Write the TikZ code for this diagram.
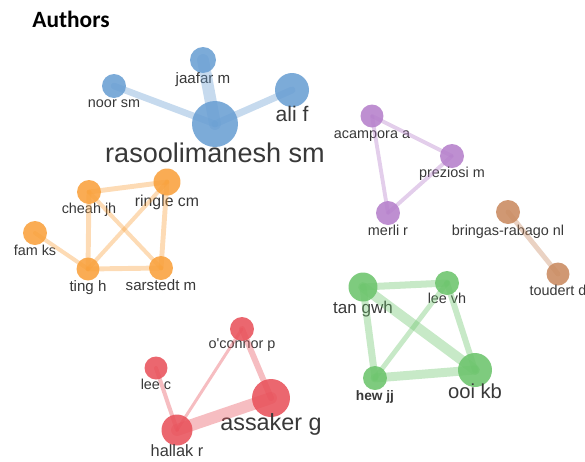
\documentclass[tikz,border=0pt]{standalone}
\usepackage{fontspec}
\setmainfont{Liberation Sans}
\newfontfamily\titlefont{Carlito}

\definecolor{clBlue}{HTML}{6A9FD3}
\definecolor{clOrange}{HTML}{F9A13C}
\definecolor{clPurple}{HTML}{B57FCB}
\definecolor{clBrown}{HTML}{C98A60}
\definecolor{clRed}{HTML}{E8525B}
\definecolor{clGreen}{HTML}{6CC46C}
\definecolor{txtGray}{HTML}{383838}

\begin{document}
\begin{tikzpicture}[x=0.02cm,y=-0.02cm,
	authorNode/.style={circle,draw=none,inner sep=0pt,fill opacity=0.88},
	authorLabel/.style={anchor=base,inner sep=0pt,text=txtGray},
	link/.style={line cap=round,draw opacity=0.38}]
\useasboundingbox (0,0) rectangle (585,461);

\node[anchor=base west,inner sep=0pt,font=\titlefont\bfseries\fontsize{13.3}{14}\selectfont] (title) at (32,27) {Authors};

\newcommand\drawAuthor[8]{\node[authorNode,fill=#4,minimum size=#3*0.04cm] at (#1,#2) (#5) {};
\node[authorLabel,font=\fontsize{#7}{#7}\selectfont] at (#1,#6) (#5-label) {#8};}

% blue cluster
\drawAuthor{215}{124}{23}{clBlue}{rasool}{162}{15.4}{rasoolimanesh sm}
\drawAuthor{203}{60}{13}{clBlue}{jaafar}{83}{8.6}{jaafar m}
\drawAuthor{114}{86}{12}{clBlue}{noor}{107}{8.2}{noor sm}
\drawAuthor{292}{90}{17}{clBlue}{ali}{121}{12}{ali f}

% purple cluster
\drawAuthor{372}{116}{11.5}{clPurple}{acampora}{138}{8.2}{acampora a}
\drawAuthor{452}{156}{12}{clPurple}{preziosi}{177}{8.2}{preziosi m}
\drawAuthor{388}{213}{12}{clPurple}{merli}{235}{8.2}{merli r}

% brown cluster
\drawAuthor{508}{212}{12}{clBrown}{bringas}{235}{8.2}{bringas-rabago nl}
\drawAuthor{558}{274}{11.5}{clBrown}{toudert}{295}{8.2}{toudert d}

% orange cluster
\drawAuthor{89}{192}{12}{clOrange}{cheah}{213}{8.2}{cheah jh}
\drawAuthor{167}{182}{13.5}{clOrange}{ringle}{206}{9}{ringle cm}
\drawAuthor{35}{233}{12}{clOrange}{fam}{255}{8.2}{fam ks}
\drawAuthor{88}{269}{11.5}{clOrange}{ting}{291}{8.6}{ting h}
\drawAuthor{161}{268}{12}{clOrange}{sarstedt}{290}{8.6}{sarstedt m}

% red cluster
\drawAuthor{242}{329}{12}{clRed}{oconnor}{348}{8.2}{o\textquotesingle connor p}
\drawAuthor{156}{368}{11.5}{clRed}{leec}{389}{8.2}{lee c}
\drawAuthor{271}{398}{19}{clRed}{assaker}{430}{13.3}{assaker g}
\drawAuthor{177}{430}{15.5}{clRed}{hallak}{456}{9.3}{hallak r}

% green cluster
\drawAuthor{363}{287}{14.5}{clGreen}{tan}{313}{9.7}{tan gwh}
\drawAuthor{447}{283}{12}{clGreen}{leevh}{303}{8.2}{lee vh}
\drawAuthor{375}{378}{12}{clGreen}{hew}{400}{7.8}{\textbf{hew jj}}
\drawAuthor{475}{370}{17}{clGreen}{ooi}{398}{11.5}{ooi kb}

\draw[link,clBlue,line width=3.8pt] (rasool.center) -- (noor.center);
\draw[link,clBlue,line width=6.8pt] (rasool.center) -- (jaafar.center);
\draw[link,clBlue,line width=4pt] (rasool.center) -- (ali.center);

\draw[link,clPurple,line width=2.2pt] (acampora.center) -- (preziosi.center);
\draw[link,clPurple,line width=2.2pt] (acampora.center) -- (merli.center);
\draw[link,clPurple,line width=2.2pt] (preziosi.center) -- (merli.center);

\draw[link,clBrown,line width=2.8pt] (bringas.center) -- (toudert.center);

\draw[link,clOrange,line width=2.8pt] (cheah.center) -- (ringle.center);
\draw[link,clOrange,line width=2.8pt] (cheah.center) -- (ting.center);
\draw[link,clOrange,line width=2.3pt] (cheah.center) -- (sarstedt.center);
\draw[link,clOrange,line width=2.3pt] (ringle.center) -- (ting.center);
\draw[link,clOrange,line width=2.8pt] (ringle.center) -- (sarstedt.center);
\draw[link,clOrange,line width=2.8pt] (ting.center) -- (sarstedt.center);
\draw[link,clOrange,line width=2.3pt] (fam.center) -- (ting.center);

\draw[link,clRed,line width=2.3pt] (leec.center) -- (hallak.center);
\draw[link,clRed,line width=1.7pt] (hallak.center) -- (oconnor.center);
\draw[link,clRed,line width=3.4pt] (oconnor.center) -- (assaker.center);
\draw[link,clRed,line width=6.8pt] (hallak.center) -- (assaker.center);

\draw[link,clGreen,line width=4pt] (tan.center) -- (leevh.center);
\draw[link,clGreen,line width=5.7pt] (tan.center) -- (ooi.center);
\draw[link,clGreen,line width=4pt] (tan.center) -- (hew.center);
\draw[link,clGreen,line width=2.8pt] (leevh.center) -- (hew.center);
\draw[link,clGreen,line width=3.4pt] (leevh.center) -- (ooi.center);
\draw[link,clGreen,line width=5.1pt] (hew.center) -- (ooi.center);
\end{tikzpicture}
\end{document}
